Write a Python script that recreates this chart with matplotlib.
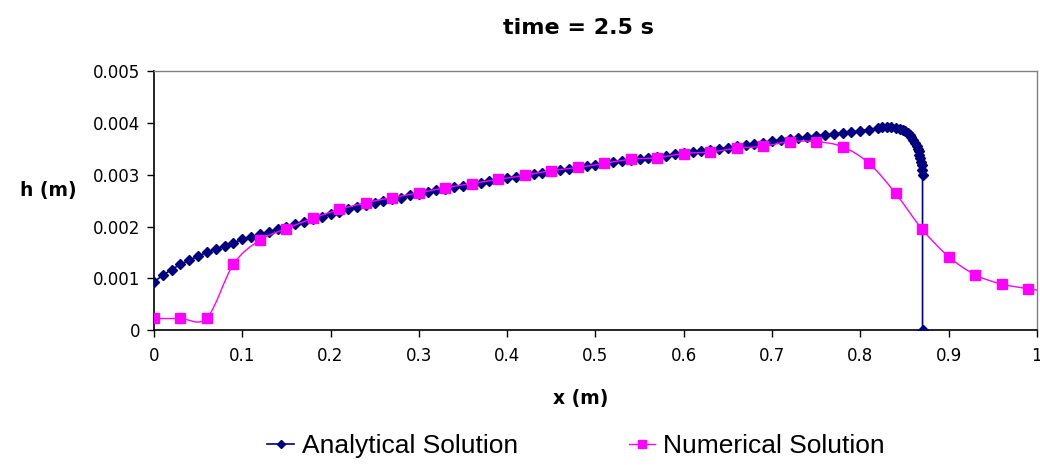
import numpy as np
import matplotlib
matplotlib.use("Agg")
import matplotlib.pyplot as plt
from matplotlib.path import Path
from matplotlib.patches import PathPatch
from matplotlib.lines import Line2D

# analytical solution
x_ana = [0.00, 0.01, 0.02, 0.03, 0.04, 0.05, 0.06, 0.07, 0.08, 0.09,
         0.10, 0.11, 0.12, 0.13, 0.14, 0.15, 0.16, 0.17, 0.18, 0.19,
         0.20, 0.21, 0.22, 0.23, 0.24, 0.25, 0.26, 0.27, 0.28, 0.29,
         0.30, 0.31, 0.32, 0.33, 0.34, 0.35, 0.36, 0.37, 0.38, 0.39,
         0.40, 0.41, 0.42, 0.43, 0.44, 0.45, 0.46, 0.47, 0.48, 0.49,
         0.50, 0.51, 0.52, 0.53, 0.54, 0.55, 0.56, 0.57, 0.58, 0.59,
         0.60, 0.61, 0.62, 0.63, 0.64, 0.65, 0.66, 0.67, 0.68, 0.69,
         0.70, 0.71, 0.72, 0.73, 0.74, 0.75, 0.76, 0.77, 0.78, 0.79,
         0.80, 0.81, 0.82, 0.825, 0.83, 0.835, 0.84, 0.845, 0.848, 0.851,
         0.854, 0.856, 0.858, 0.860, 0.862, 0.864, 0.865, 0.866, 0.867, 0.868,
         0.869, 0.8695, 0.870, 0.8705, 0.8705]
h_ana = [0.00093, 0.00106, 0.00117, 0.00127, 0.00135, 0.00143, 0.00150, 0.00157, 0.00163, 0.00169,
         0.00175, 0.00180, 0.00185, 0.00190, 0.00195, 0.00199, 0.00204, 0.00209, 0.00214, 0.00219,
         0.00224, 0.00229, 0.00233, 0.00237, 0.00241, 0.00245, 0.00249, 0.00253, 0.00256, 0.00260,
         0.00263, 0.00267, 0.00270, 0.00273, 0.00276, 0.00279, 0.00282, 0.00285, 0.00288, 0.00291,
         0.00293, 0.00296, 0.00299, 0.00301, 0.00304, 0.00307, 0.00309, 0.00312, 0.00314, 0.00317,
         0.00319, 0.00322, 0.00324, 0.00326, 0.00329, 0.00331, 0.00333, 0.00335, 0.00337, 0.00340,
         0.00342, 0.00344, 0.00346, 0.00348, 0.00350, 0.00352, 0.00355, 0.00358, 0.00360, 0.00362,
         0.00365, 0.00367, 0.00369, 0.00371, 0.00373, 0.00375, 0.00377, 0.00379, 0.00381, 0.00383,
         0.00385, 0.00387, 0.00390, 0.00392, 0.00392, 0.00392, 0.00391, 0.00389, 0.00387, 0.00384,
         0.00380, 0.00377, 0.00373, 0.00368, 0.00362, 0.00355, 0.00350, 0.00345, 0.00339, 0.00332,
         0.00324, 0.00318, 0.00310, 0.00300, 0.0]

# numerical solution
x_num = [0.00, 0.03, 0.06, 0.09, 0.12, 0.15, 0.18, 0.21, 0.24, 0.27,
         0.30, 0.33, 0.36, 0.39, 0.42, 0.45, 0.48, 0.51, 0.54, 0.57,
         0.60, 0.63, 0.66, 0.69, 0.72, 0.75, 0.78, 0.81, 0.84, 0.87,
         0.90, 0.93, 0.96, 0.99, 1.02]
h_num = [0.000225, 0.000225, 0.000235, 0.00127, 0.00174, 0.00196, 0.00216, 0.00233, 0.00246, 0.00256,
         0.00265, 0.00275, 0.00283, 0.00291, 0.00299, 0.00308, 0.00314, 0.00322, 0.00330, 0.00333,
         0.00341, 0.00344, 0.00351, 0.00355, 0.00364, 0.00364, 0.00354, 0.00322, 0.00264, 0.00195,
         0.00142, 0.00107, 0.00089, 0.00080, 0.00072]

x_ticks = [0, 0.1, 0.2, 0.3, 0.4, 0.5, 0.6, 0.7, 0.8, 0.9, 1]
x_labels = ["0", "0.1", "0.2", "0.3", "0.4", "0.5", "0.6", "0.7", "0.8", "0.9", "1"]
y_ticks = [0, 0.001, 0.002, 0.003, 0.004, 0.005]
y_labels = ["0", "0.001", "0.002", "0.003", "0.004", "0.005"]

BLUE = "#000080"
PINK = "#FF00FF"

plt.rcParams["font.family"] = ["DejaVu Sans"]


def smooth_path(xs, ys):
    """Excel-style smoothed line: cubic Bezier through the points."""
    pts = np.column_stack([xs, ys])
    verts = [pts[0]]
    codes = [Path.MOVETO]
    n = len(pts)
    for i in range(n - 1):
        p0 = pts[max(i - 1, 0)]
        p1 = pts[i]
        p2 = pts[i + 1]
        p3 = pts[min(i + 2, n - 1)]
        c1 = p1 + (p2 - p0) / 6.0
        c2 = p2 - (p3 - p1) / 6.0
        verts += [c1, c2, p2]
        codes += [Path.CURVE4] * 3
    return Path(verts, codes)


fig = plt.figure(figsize=(10.4, 4.65), dpi=100)
ax = fig.add_axes([0.148, 0.29, 0.849, 0.557])

ax.plot(x_ana, h_ana, "-", color=BLUE, lw=1.2, marker="D", ms=5,
        mec=BLUE, mfc=BLUE, zorder=3)

ax.add_patch(PathPatch(smooth_path(x_num, h_num), fc="none", ec=PINK, lw=1.0, zorder=4))
ax.plot(x_num, h_num, "none", marker="s", ms=6.5, mfc=PINK, mec=PINK, zorder=5)

ax.set_xlim(0, 1)
ax.set_ylim(0, 0.005)
ax.set_xticks(x_ticks)
ax.set_xticklabels(x_labels)
ax.set_yticks(y_ticks)
ax.set_yticklabels(y_labels)
ax.tick_params(direction="out", length=5, width=1, labelsize=12, colors="black")
ax.tick_params(axis="y", pad=5)
ax.tick_params(axis="x", pad=7)

for side in ("left", "bottom"):
    ax.spines[side].set_color("black")
    ax.spines[side].set_linewidth(1.2)
for side in ("top", "right"):
    ax.spines[side].set_color("#808080")
    ax.spines[side].set_linewidth(1.0)

fig.text(578 / 1040, 1 - 28 / 465, "time = 2.5 s", ha="center", va="center",
         fontsize=16, fontweight="bold")
fig.text(581 / 1040, 1 - 398 / 465, "x (m)", ha="center", va="center",
         fontsize=13.5, fontweight="bold")
fig.text(48 / 1040, 1 - 190 / 465, "h (m)", ha="center", va="center",
         fontsize=13.5, fontweight="bold")

handles = [
    Line2D([], [], color=BLUE, lw=1.2, marker="D", ms=4),
    Line2D([], [], color=PINK, lw=1.0, marker="s", ms=6),
]
fig.legend(handles, ["Analytical Solution", "Numerical Solution"],
           loc="center", bbox_to_anchor=(576 / 1040, 1 - 446 / 465), ncol=2,
           frameon=False, handlelength=1.0, handletextpad=0.3,
           columnspacing=4.2,
           prop={"family": ["Liberation Sans", "DejaVu Sans"], "size": 19})

fig.savefig("out.png", dpi=100)
